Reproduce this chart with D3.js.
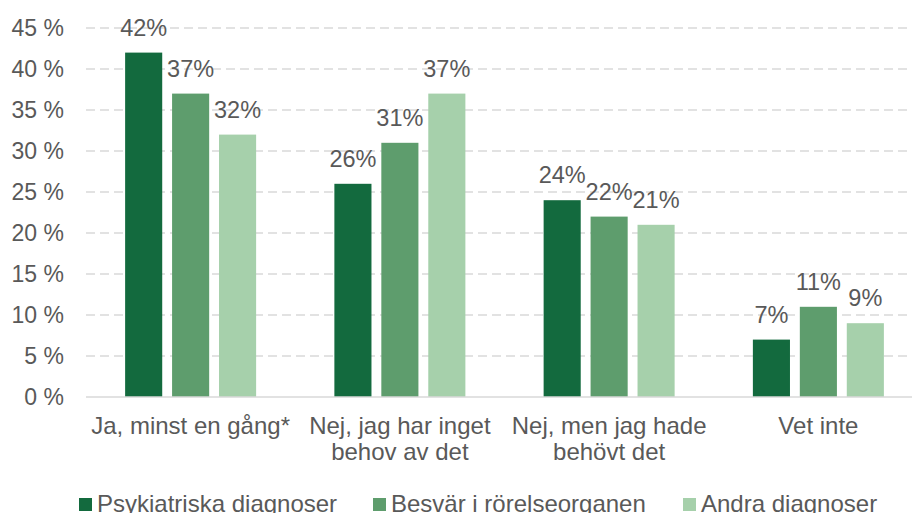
<!DOCTYPE html>
<html>
<head>
<meta charset="utf-8">
<script src="https://cdn.jsdelivr.net/npm/d3@7"></script>
<style>
  body { margin: 0; background: #fff; }
  svg { display: block; font-family: "Liberation Sans", Arial, sans-serif; }
</style>
</head>
<body>
<svg id="chart" width="912" height="513"></svg>
<script>
// categories (label lines) and series
const categories = [
    ["Ja, minst en gång*"],
    ["Nej, jag har inget", "behov av det"],
    ["Nej, men jag hade", "behövt det"],
    ["Vet inte"]
];
const seriesNames = ["Psykiatriska diagnoser", "Besvär i rörelseorganen", "Andra diagnoser"];
const psykiatriska = [42, 26, 24, 7];
const besvar = [37, 31, 22, 11];
const andra = [32, 37, 21, 9];
const yTicks = [0, 5, 10, 15, 20, 25, 30, 35, 40, 45];
const colors = ["#136a3e", "#5e9d6d", "#a6d0ab"];

const seriesValues = [psykiatriska, besvar, andra];

const svg = d3.select("#chart");
const plotLeft = 86, plotRight = 923, plotTop = 28, plotBottom = 397;
const textColor = "#595959";

const x0 = d3.scaleBand()
    .domain(d3.range(categories.length))
    .range([plotLeft, plotRight]);
const x1 = d3.scaleBand()
    .domain(d3.range(seriesNames.length))
    .range([0, 131])
    .paddingInner(0.21);
const y = d3.scaleLinear().domain([0, 45]).range([plotBottom, plotTop]);

// gridlines
svg.append("g")
    .selectAll("line")
    .data(yTicks.filter(d => d > 0))
    .join("line")
    .attr("x1", plotLeft).attr("x2", plotRight)
    .attr("y1", d => y(d)).attr("y2", d => y(d))
    .attr("stroke", "#d9d9d9")
    .attr("stroke-width", 1.5)
    .attr("stroke-dasharray", "9,5");

// y axis labels
const yAxis = svg.append("g")
    .attr("transform", `translate(${plotLeft},0)`)
    .call(d3.axisLeft(y).tickValues(yTicks).tickSize(0).tickPadding(22).tickFormat(d => d + " %"));
yAxis.select(".domain").remove();
yAxis.selectAll("text")
    .attr("fill", textColor)
    .style("font-size", "23px")
    .style("font-family", "Liberation Sans, Arial, sans-serif");

// bars
const groups = svg.append("g")
    .selectAll("g")
    .data(categories)
    .join("g")
    .attr("transform", (d, i) => `translate(${x0(i) + (x0.bandwidth() - 131) / 2},0)`);

groups.each(function(c, i) {
    const g = d3.select(this);
    seriesValues.forEach((vals, s) => {
        g.append("rect")
            .attr("x", x1(s))
            .attr("y", y(vals[i]))
            .attr("width", x1.bandwidth())
            .attr("height", y(0) - y(vals[i]))
            .attr("fill", colors[s]);
        g.append("text")
            .attr("x", x1(s) + x1.bandwidth() / 2)
            .attr("y", y(vals[i]) - 17)
            .attr("text-anchor", "middle")
            .attr("fill", textColor)
            .style("font-size", "23.5px")
            .text(vals[i] + "%");
    });
});

// baseline
svg.append("line")
    .attr("x1", plotLeft).attr("x2", plotRight)
    .attr("y1", y(0)).attr("y2", y(0))
    .attr("stroke", "#d9d9d9")
    .attr("stroke-width", 1.5);

// category labels
categories.forEach((lines, i) => {
    const t = svg.append("text")
        .attr("text-anchor", "middle")
        .attr("fill", textColor)
        .style("font-size", "24px");
    lines.forEach((line, k) => {
        t.append("tspan")
            .attr("x", x0(i) + x0.bandwidth() / 2)
            .attr("y", 434 + k * 26)
            .text(line);
    });
});

// legend
const legendX = [79, 373, 683];
const legend = svg.append("g")
    .selectAll("g")
    .data(seriesNames)
    .join("g")
    .attr("transform", (d, i) => `translate(${legendX[i]},498)`);
legend.append("rect")
    .attr("width", 13).attr("height", 13)
    .attr("fill", (d, i) => colors[i]);
legend.append("text")
    .attr("x", 18)
    .attr("y", 14)
    .attr("fill", textColor)
    .style("font-size", "24px")
    .text(d => d);
</script>
</body>
</html>
